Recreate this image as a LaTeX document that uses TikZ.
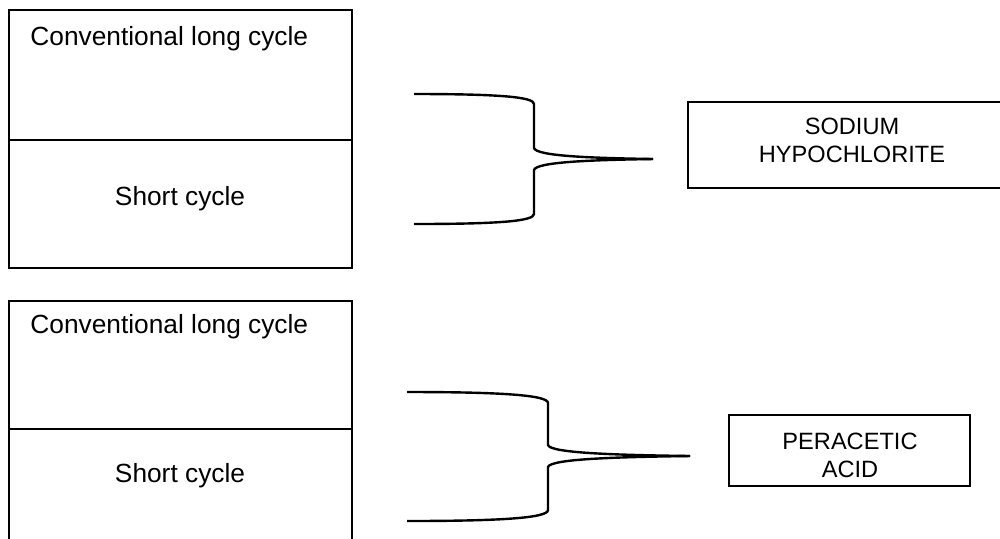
\documentclass[tikz,border=0pt]{standalone}
\usepackage{fontspec}
\setmainfont{Liberation Sans}
\begin{document}
\begin{tikzpicture}[x=0.5pt,y=-0.5pt,
  boxline/.style={draw=black,line width=1pt},
  bracel/.style={draw=black,line width=1.2pt},
  cyc/.style={inner sep=0pt,font=\fontsize{13.15}{15}\selectfont},
  chem/.style={inner sep=0pt,align=center,font=\fontsize{11.8}{14}\selectfont}]
\useasboundingbox (0,0) rectangle (1000,538);
% top group
\draw[boxline] (9,10) rectangle (352,268);
\draw[boxline] (9,140) -- (352,140);
\node[cyc,anchor=base west] (conv1) at (30,45) {Conventional long cycle};
\node[cyc,anchor=base] (short1) at (180,205) {Short cycle};
% bottom group
\draw[boxline] (9,545) -- (9,301) -- (352,301) -- (352,545);
\draw[boxline] (9,429) -- (352,429);
\node[cyc,anchor=base west] (conv2) at (30,333) {Conventional long cycle};
\node[cyc,anchor=base] (short2) at (180,482) {Short cycle};
% right boxes
\draw[boxline] (688,102) rectangle (1016,188);
\node[chem] (naocl) at (852,140.5) {SODIUM\\HYPOCHLORITE};
\draw[boxline] (729,415) rectangle (970,486);
\node[chem] (paa) at (850,455) {PERACETIC\\ACID};
% braces
\coordinate (b1t) at (414,94);
\coordinate (b1b) at (414,224);
\coordinate (b1tip) at (653,159);
\draw[bracel] (b1t) .. controls (500,94) and (534,97) .. (534,104) -- (534,148)
  .. controls (536,156) and (590,158) .. (b1tip);
\draw[bracel] (b1b) .. controls (500,224) and (534,221) .. (534,214) -- (534,170)
  .. controls (536,162) and (590,160) .. (b1tip);
\coordinate (b2t) at (407,392);
\coordinate (b2b) at (407,521);
\coordinate (b2tip) at (690,456);
\draw[bracel] (b2t) .. controls (500,392) and (548,395) .. (548,403) -- (548,445)
  .. controls (550,453) and (615,455) .. (b2tip);
\draw[bracel] (b2b) .. controls (500,521) and (548,518) .. (548,510) -- (548,467)
  .. controls (550,459) and (615,457) .. (b2tip);
\end{tikzpicture}
\end{document}
